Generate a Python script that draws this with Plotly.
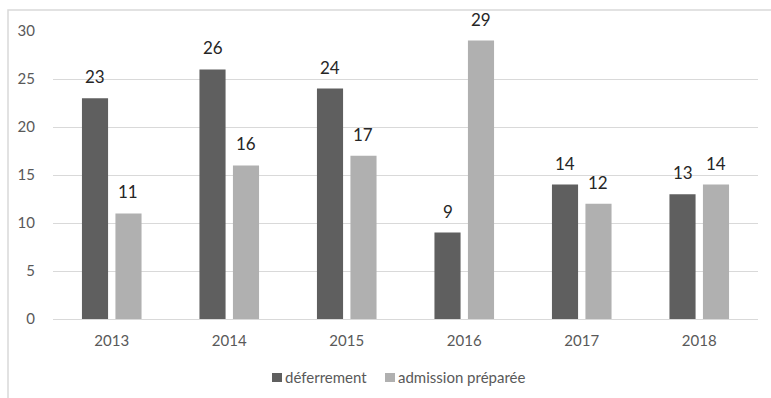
import plotly.graph_objects as go

years = ["2013", "2014", "2015", "2016", "2017", "2018"]
deferrement = [23, 26, 24, 9, 14, 13]
admission_preparee = [11, 16, 17, 29, 12, 14]
series_names = ["déferrement", "admission préparée"]

dark = "#5f5f5f"
light = "#b0b0b0"
font_family = "Lato, 'Open Sans', sans-serif"

# plot geometry (pixels)
width, height = 771, 398
margin = dict(l=53, r=13, t=31, b=79)
bargap, bargroupgap = 0.43, 0.22
plot_w = width - margin["l"] - margin["r"]
plot_h = height - margin["t"] - margin["b"]
cat_w = plot_w / len(years)
slot_w = cat_w * (1 - bargap) / 2  # width reserved per series in a group


def px_x(px):
    return (px - margin["l"]) / plot_w


def px_y(py):
    return (height - margin["b"] - py) / plot_h


fig = go.Figure()
for name, vals, color in [(series_names[0], deferrement, dark),
                          (series_names[1], admission_preparee, light)]:
    fig.add_trace(go.Bar(
        x=years, y=vals, name=name,
        marker=dict(color=color, line=dict(width=0)),
        showlegend=False,
    ))

# value labels above each bar
annotations = []
for k, vals in enumerate([deferrement, admission_preparee]):
    shift = (k - 0.5) * slot_w
    for i, v in enumerate(vals):
        annotations.append(dict(
            x=i, y=v, xref="x", yref="y", text=str(v), showarrow=False,
            xanchor="center", yanchor="bottom", xshift=shift, yshift=9,
            font=dict(size=17, color="#262626", family=font_family),
        ))

# legend row beneath the axis: square key + label for each series
shapes = [dict(
    type="rect", xref="paper", yref="paper",
    x0=px_x(8), x1=px_x(800), y0=px_y(420), y1=px_y(10),
    line=dict(color="#d9d9d9", width=1.5), fillcolor="rgba(0,0,0,0)",
    layer="below",
)]
legend_items = [(series_names[0], dark, 272), (series_names[1], light, 385)]
for name, color, left in legend_items:
    shapes.append(dict(
        type="rect", xref="paper", yref="paper",
        x0=px_x(left), x1=px_x(left + 10), y0=px_y(382), y1=px_y(373),
        line=dict(width=0), fillcolor=color,
    ))
    annotations.append(dict(
        x=px_x(left + 11), y=px_y(377), xref="paper", yref="paper",
        text=name, showarrow=False, xanchor="left", yanchor="middle",
        font=dict(size=15, color="#595959", family=font_family),
    ))

fig.update_layout(
    width=width, height=height,
    margin=margin,
    paper_bgcolor="white", plot_bgcolor="white",
    barmode="group", bargap=bargap, bargroupgap=bargroupgap,
    font=dict(family=font_family, size=15, color="#595959"),
    showlegend=False,
    xaxis=dict(
        type="category",
        showgrid=False, showline=True, linecolor="#d9d9d9", linewidth=1,
        ticks="outside", ticklen=8, tickcolor="rgba(0,0,0,0)",
        tickfont=dict(size=15, color="#595959"),
    ),
    yaxis=dict(
        range=[0, 30], dtick=5, showgrid=True, gridcolor="#d9d9d9", gridwidth=1,
        zeroline=True, zerolinecolor="#d9d9d9", zerolinewidth=1,
        showline=False,
        ticks="outside", ticklen=14, tickcolor="rgba(0,0,0,0)",
        tickfont=dict(size=15, color="#595959"),
    ),
    annotations=annotations,
    shapes=shapes,
)

fig.write_html("out.html")
